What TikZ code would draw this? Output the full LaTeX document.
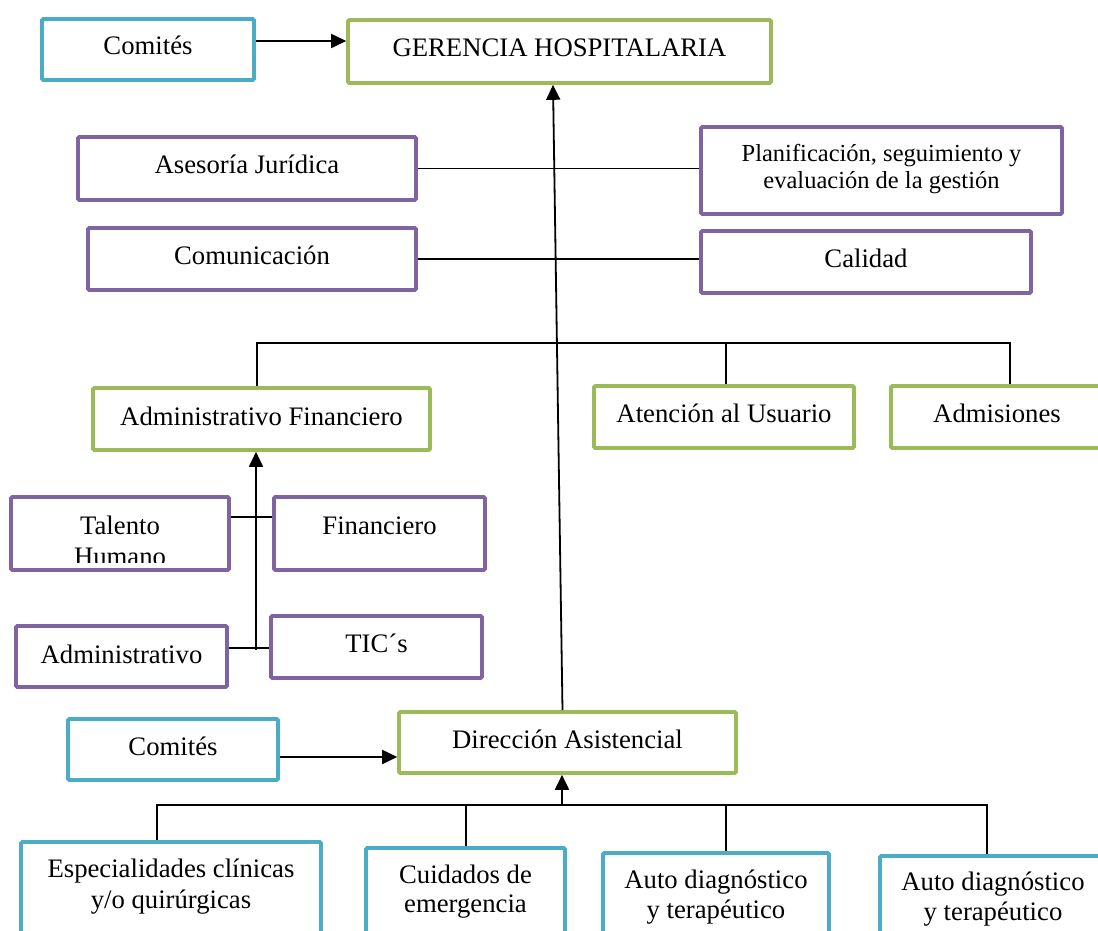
\documentclass[tikz,border=0pt]{standalone}
\usepackage{fontspec}
\setmainfont{Liberation Serif}
\usetikzlibrary{arrows.meta,calc}

\definecolor{boxcyan}{HTML}{4BACC6}
\definecolor{boxgreen}{HTML}{9BBB59}
\definecolor{boxpurple}{HTML}{8064A2}

% A box given by its corners (border centre line), in pixel-like units
\newcommand\orgbox[6]{%
  \node[orgnode,#2,minimum width={#5-#3},minimum height={#6-#4}]
    (#1) at ({(#3+#5)/2},{(#4+#6)/2}) {};}

\tikzset{
  x=1pt, y=-1pt,
  orgnode/.style={draw, line width=3.6pt, rounded corners=1.2pt, inner sep=0pt, fill=white},
  cyanbox/.style={draw=boxcyan},
  greenbox/.style={draw=boxgreen},
  purplebox/.style={draw=boxpurple},
  txt/.style={font=\fontsize{26.7}{30}\selectfont, anchor=base, inner sep=0pt},
  smalltxt/.style={font=\fontsize{24.5}{28}\selectfont, anchor=base, inner sep=0pt},
  link/.style={draw=black, line width=1.8pt},
  arr/.style={link, -{Triangle[length=15pt,width=14pt]}},
}

\begin{document}
\begin{tikzpicture}
\clip (0,0) rectangle (1098,931);
\fill[white] (0,0) rectangle (1098,931);

% ---- boxes ----
\orgbox{com1}{cyanbox}{42}{19}{254}{80}
\orgbox{ger}{greenbox}{348}{20}{771}{83}
\orgbox{asj}{purplebox}{78}{137}{416}{200}
\orgbox{pla}{purplebox}{701}{127}{1062}{214}
\orgbox{com}{purplebox}{88}{228}{416}{290}
\orgbox{cal}{purplebox}{701}{231}{1031}{293}
\orgbox{af}{greenbox}{93}{388}{430}{450}
\orgbox{atu}{greenbox}{594}{386}{854}{448}
\orgbox{adm}{greenbox}{891}{386}{1110}{448}
\orgbox{tal}{purplebox}{11}{497}{229}{570}
\orgbox{fin}{purplebox}{274}{497}{485}{570}
\orgbox{adv}{purplebox}{16}{626}{227}{687}
\orgbox{tic}{purplebox}{271}{616}{482}{678}
\orgbox{com2}{cyanbox}{68}{719}{278}{780}
\orgbox{dir}{greenbox}{399}{712}{736}{773}
\orgbox{esp}{cyanbox}{21}{842}{321}{945}
\orgbox{cui}{cyanbox}{366}{848}{565}{945}
\orgbox{au1}{cyanbox}{603}{853}{829}{945}
\orgbox{au2}{cyanbox}{880}{856}{1110}{945}

% ---- texts ----
\node[txt] at (com1.center |- 0,55) {Comités};
\node[txt] at (ger.center |- 0,57) {GERENCIA HOSPITALARIA};
\node[txt] at (asj.center |- 0,174) {Asesoría Jurídica};
\node[smalltxt] at (pla.center |- 0,162) {Planificación, seguimiento y};
\node[smalltxt] at (pla.center |- 0,188) {evaluación de la gestión};
\node[txt] at (com.center |- 0,264) {Comunicación};
\node[txt] at (cal.center |- 0,267) {Calidad};
\node[txt] at (af.center |- 0,425) {Administrativo Financiero};
\node[txt] at (atu.center |- 0,422) {Atención al Usuario};
\node[txt] at (997,422) {Admisiones};
\node[txt] at (tal.center |- 0,534) {Talento};
\begin{scope}
  \clip (tal.north west) rectangle ($(tal.south east)+(0,-9)$);
  \node[txt] at (tal.center |- 0,565) {Humano};
\end{scope}
\node[txt] at (fin.center |- 0,534) {Financiero};
\node[txt] at (adv.center |- 0,663) {Administrativo};
\node[txt] at (tic.center |- 0,652) {TIC´s};
\node[txt] at (com2.center |- 0,755) {Comités};
\node[txt] at (dir.center |- 0,748) {Dirección Asistencial};
\node[txt] at (esp.center |- 0,877) {Especialidades clínicas};
\node[txt] at (esp.center |- 0,908) {y/o quirúrgicas};
\node[txt] at (cui.center |- 0,883) {Cuidados de};
\node[txt] at (cui.center |- 0,912) {emergencia};
\node[txt] at (au1.center |- 0,888) {Auto diagnóstico};
\node[txt] at (au1.center |- 0,918) {y terapéutico};
\node[txt] at (993,890) {Auto diagnóstico};
\node[txt] at (993,920) {y terapéutico};

% ---- connector helpers ----
\coordinate (rowA) at (0,41);
\coordinate (busL) at (257,343);
\coordinate (busR) at (1010,343);
\coordinate (spine) at (256,650);
\coordinate (rowT) at (0,517);
\coordinate (rowC) at (0,757);
\coordinate (bus2L) at (157,805);
\coordinate (bus2R) at (987,805);
\coordinate (bus2M) at (562,805);

% ---- connectors ----
\draw[arr] (com1.east |- rowA) -- (ger.west |- rowA);
\draw[link] (asj.east) -- (asj.east -| pla.west);
\draw[link] (com.east) -- (com.east -| cal.west);
\draw[arr] ($(dir.north)+(-5,0)$) -- ($(ger.south)+(-6.5,0)$);

\draw[link] (af.north -| busL) -- (busL) -- (busR) -- (adm.north -| busR);
\draw[link] (atu.north -| 726,0) -- (726,343);

\draw[arr] (spine) -- (spine |- af.south);
\draw[link] (tal.east |- rowT) -- (fin.west |- rowT);
\draw[link] (adv.east |- 0,648) -- (tic.west |- 0,648);

\draw[arr] (com2.east |- rowC) -- (dir.west |- rowC);

\draw[link] (esp.north -| bus2L) -- (bus2L) -- (bus2R) -- (au2.north -| bus2R);
\draw[link] (cui.north -| 466,0) -- (466,805);
\draw[link] (au1.north -| 726,0) -- (726,805);
\draw[arr] (bus2M) -- (dir.south -| bus2M);
\end{tikzpicture}
\end{document}
